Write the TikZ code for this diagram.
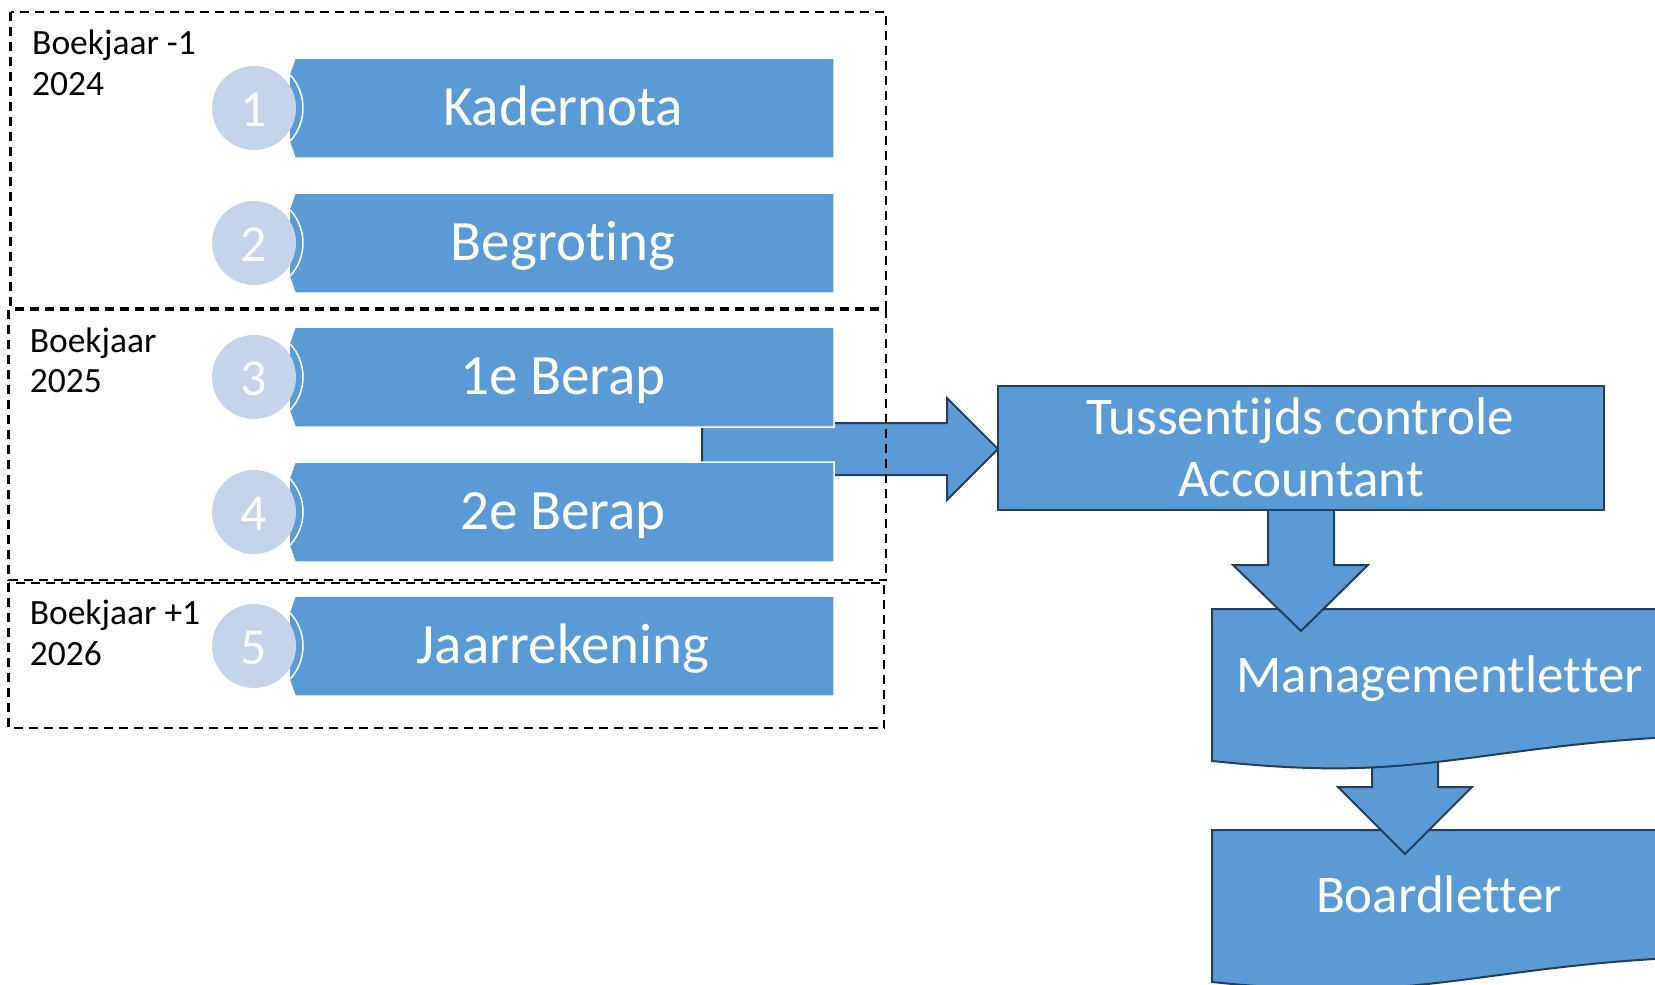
\documentclass[tikz,border=0pt]{standalone}
\usepackage{fontspec}
\setmainfont{Carlito}[Ligatures={NoCommon}]
\newcommand{\nolig}{\kern0pt{}}
\definecolor{barblue}{HTML}{5B9BD5}
\definecolor{circblue}{HTML}{C4D4EA}
\definecolor{edgeblue}{HTML}{223F5E}
\begin{document}
\begin{tikzpicture}[x=1pt,y=-1pt,
  dashbox/.style={draw=black,line width=2.4pt,dash pattern=on 9pt off 6pt},
  bar/.style={fill=barblue,draw=white,line width=1.5pt},
  disc/.style={circle,fill=circblue,draw=none,minimum size=84pt,inner sep=0},
  bartext/.style={text=white,font=\fontsize{57}{68}\selectfont,anchor=base,inner sep=0},
  numtext/.style={text=white,font=\fontsize{52}{60}\selectfont,anchor=base,inner sep=0,opacity=0.9},
  yeartext/.style={text=black,font=\fontsize{35.5}{42}\selectfont,anchor=base west,inner sep=0},
  block/.style={fill=barblue,draw=edgeblue,line width=2pt,line join=miter},
  blocktext/.style={text=white,font=\fontsize{53}{62.4}\selectfont,anchor=base,inner sep=0},
]
\useasboundingbox (0,0) rectangle (1655,985);
\clip (0,0) rectangle (1655,985);

% arrow to the interim audit box (behind the bars)
\draw[block] (702,423) -- (947,423) -- (947,398) -- (998,449) -- (947,500) -- (947,475) -- (702,475) -- cycle;

% bars with circles
\foreach \i/\t/\lbl in {1/58/Kadernota,2/193/Begrot\nolig ing,3/327/1e Berap,4/462/2e Berap,5/596/Jaarrekening}{
  \draw[bar] (295,\t) -- (834,\t) -- (834,\t+100) -- (295,\t+100) -- (289,\t+83) -- (289,\t+17) -- cycle;
  \node[disc] (c\i) at (254,\t+50) {};
  \draw[white,line width=1.5pt] (c\i.center) ++(-42.5:49) arc[start angle=-42.5,end angle=42.5,radius=49];
  \node[numtext] (n\i) at (254,\t+68) {\i};
  \node[bartext] (t\i) at (563,\t+67) {\lbl};
}

% dashed year boxes
\draw[dashbox] (10.5,12) rectangle (886,308);
\draw[dashbox] (8.5,310) rectangle (886,580);
\draw[dashbox] (8.5,583) rectangle (884,728);

\node[yeartext] (y1a) at (32,54.3) {Boekjaar -1};
\node[yeartext] (y1b) at (32,95) {2024};
\node[yeartext] (y2a) at (29.6,352) {Boekjaar};
\node[yeartext] (y2b) at (29.6,392.7) {2025};
\node[yeartext] (y3a) at (29.6,624.3) {Boekjaar +1};
\node[yeartext] (y3b) at (29.6,665) {2026};

% boardletter document
\draw[block] (1212,830) -- (1700,830) -- (1700,957) .. controls (1560,961) and (1470,983) .. (1380,988) .. controls (1330,991) and (1280,989) .. (1212,982) -- cycle;
% arrow managementletter -> boardletter
\draw[block] (1372,750) -- (1438,750) -- (1438,787) -- (1472,787) -- (1405,854) -- (1338,787) -- (1372,787) -- cycle;
% managementletter document
\draw[block] (1212,609) -- (1700,609) -- (1700,736) .. controls (1560,740) and (1470,762) .. (1380,767) .. controls (1330,770) and (1280,768) .. (1212,761) -- cycle;
% arrow box -> managementletter
\draw[block] (1268,505) -- (1334,505) -- (1334,565) -- (1368,565) -- (1301,631) -- (1233,565) -- (1268,565) -- cycle;
% interim audit box
\node[block,minimum width=606pt,minimum height=124pt,inner sep=0] (tc) at (1300.5,448) {};

\node[blocktext] (tc1) at (1300,434.3) {Tussent\nolig ijds controle};
\node[blocktext] (tc2) at (1301,496.7) {Accountant};
\node[blocktext] (ml) at (1440,692) {Managementlet\nolig ter};
\node[blocktext] (bl) at (1439,912) {Boardlet\nolig ter};
\end{tikzpicture}
\end{document}
